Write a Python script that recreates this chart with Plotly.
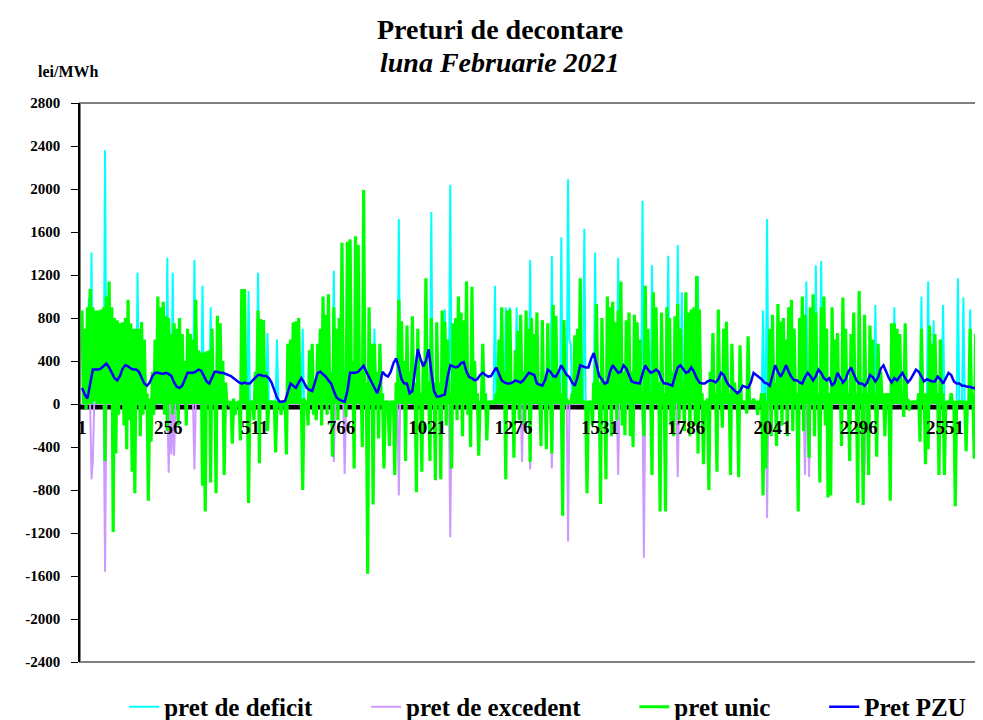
import plotly.graph_objects as go

FONT = "Liberation Serif"
C_DEF = "#00FFFF"
C_EXC = "#CC99FF"
C_UNIC = "#00FF00"
C_PZU = "#0000FF"

x_ticks = [1, 256, 511, 766, 1021, 1276, 1531, 1786, 2041, 2296, 2551]
y_ticks = list(range(-2400, 2801, 400))

# pret unic: top and bottom of the curve in each 2-hour block (12 blocks per day)
unic_hi = [
    870, 700, 900, 1070, 900, 870, 870, 880, 900, 1000, 1140, 900,
    800, 780, 750, 760, 800, 970, 750, 700, 700, 700, 760, 600,
    100, 50, 300, 600, 1000, 900, 950, 820, 800, 650, 750, 700,
    800, 650, 400, 700, 650, 600, 970, 500, 480, 480, 490, 500,
    700, 300, 820, 750, 400, 200, 30, 30, 50, 20, 30, 1070,
    1070, 200, 30, 30, 300, 870, 790, 780, 300, 30, 30, 30,
    30, 30, 30, 30, 560, 600, 760, 770, 800, 50, 50, 30,
    500, 560, 200, 560, 700, 1000, 830, 1020, 300, 900, 700, 800,
    1500, 300, 1510, 1530, 400, 1560, 1480, 300, 1990, 200, 900, 560,
    560, 300, 560, 100, 30, 30, 30, 30, 200, 970, 770, 400,
    730, 300, 815, 200, 700, 100, 400, 1170, 200, 800, 200, 760,
    200, 870, 765, 600, 100, 750, 800, 1000, 850, 780, 1140, 300,
    1090, 400, 100, 30, 560, 100, 30, 30, 30, 100, 600, 900,
    300, 870, 880, 200, 500, 680, 830, 300, 870, 700, 800, 650,
    850, 200, 780, 200, 750, 200, 920, 820, 300, 100, 780, 50,
    30, 100, 640, 700, 1170, 30, 30, 30, 30, 200, 930, 200,
    800, 200, 1000, 900, 950, 760, 870, 1140, 300, 780, 850, 300,
    830, 760, 600, 50, 1100, 700, 100, 1040, 900, 200, 850, 100,
    900, 800, 300, 815, 930, 700, 200, 1040, 850, 880, 900, 1190,
    880, 100, 30, 50, 300, 660, 100, 880, 100, 700, 765, 100,
    560, 200, 100, 545, 30, 30, 630, 30, 50, 30, 30, 100,
    100, 30, 700, 830, 200, 930, 765, 800, 600, 900, 970, 700,
    100, 800, 1000, 830, 200, 900, 1020, 850, 100, 900, 1000, 700,
    100, 900, 600, 660, 200, 990, 700, 100, 650, 850, 100, 1050,
    100, 830, 100, 730, 600, 100, 560, 300, 100, 100, 100, 750,
    750, 700, 650, 100, 750, 50, 30, 30, 30, 100, 700, 100,
    100, 730, 560, 650, 100, 600, 100, 30, 30, 100, 30, 30,
    30, 30, 30, 30, 700, 100, 650, 100, 700, 100, 700, 700,
]
unic_lo = [
    0, -50, 0, 0, 20, 0, 0, 0, -530, 0, 0, -1190,
    -460, -100, 0, -200, -420, -150, -630, -830, 0, -300, -100, 0,
    -900, -350, -100, 0, 0, 0, -100, -250, 0, -100, 0, -200,
    0, 0, -200, 0, 0, 0, 0, 0, -760, -1000, 0, -730,
    0, -830, 0, 0, -660, 0, -20, -370, -100, 0, -340, 0,
    0, -920, 0, -150, 0, -550, 0, 0, -250, 0, 0, -450,
    0, -100, 0, -470, 0, 0, 0, 0, 0, -800, 0, -200,
    0, -100, -150, 0, -200, 0, -100, 0, -490, 0, -150, 0,
    0, -120, 0, 0, -600, 0, 0, -400, 0, -1580, 0, -935,
    0, -320, 0, -600, 0, -390, 0, -660, 0, 0, 0, -530,
    0, 0, 0, -820, 0, -630, 0, 0, -530, 0, -710, 0,
    -700, 0, -200, 0, -600, 0, -150, 0, -300, 0, -100, -400,
    0, 0, -480, 0, 0, -340, 0, 0, 0, 0, 0, 0,
    -700, 0, 0, -500, 0, -150, 0, -200, 0, -540, 0, 0,
    0, -390, 0, -420, 0, -460, 0, 0, 0, -1040, 0, 0,
    0, 0, 0, 0, 0, 0, -830, 0, -200, 0, 0, -930,
    0, -700, 0, -300, 0, -150, 0, -200, -290, 0, -300, -400,
    0, 0, 0, -300, 0, 0, -660, 0, 0, -1000, 0, -1000,
    0, -200, -300, 0, -150, 0, -250, 0, -300, 0, -200, -460,
    0, -560, 0, -800, 0, 0, -630, 0, -220, 0, 0, -660,
    0, 0, -680, 0, 0, -90, 0, 0, 0, -100, 0, -850,
    -600, 0, -300, 0, -390, 0, -200, 0, -300, 0, -250, 0,
    -1000, 0, -250, 0, -500, 0, -300, 0, -730, 0, -200, -870,
    -850, 0, 0, 0, -390, 0, 0, -530, 0, 0, -920, 0,
    -940, 0, -660, 0, 0, -490, 0, 0, -300, 0, -900, 0,
    0, 0, 0, -120, 0, -60, 0, 0, 0, -350, 0, -560,
    -420, 0, 0, 0, -660, 0, -660, 0, 0, 0, -950, 0,
    0, 0, -440, 0, 0, -510, 0, -500, 0, -320, 0, 0,
]

# deficit / excedent spikes: hour index in the month, price
deficit_hour = [5, 7, 17, 41, 44, 63, 67, 83, 89, 95, 123, 130, 137, 144, 163,
                186, 191, 198, 216, 234, 258, 268, 272, 296, 305, 313, 316, 321,
                331, 347, 354, 359, 360, 361, 371, 379, 396, 414, 421, 433, 440,
                443, 455, 503, 506, 535, 542, 546, 578, 586, 600, 620, 625, 629,
                636, 647, 651, 656]
deficit_val = [990, 1410, 2360, 1220, 765, 1360, 1220, 1340, 1100, 900, 1050,
               1220, 660, 600, 700, 1240, 830, 1530, 700, 1720, 1785, 880, 2040,
               545, 1100, 900, 900, 900, 1340, 1380, 1550, 2090, 600, 550, 1630,
               1410, 1360, 1890, 1290, 1380, 1480, 1040, 1190, 870, 1720, 1140,
               1290, 1330, 730, 920, 900, 1000, 1140, 780, 920, 1170, 990, 880]
excedent_hour = [7, 8, 17, 39, 64, 66, 68, 83, 100, 186, 194, 212, 234, 272,
                 325, 331, 347, 359, 396, 415, 440, 506, 534, 537, 578]
excedent_val = [-700, -530, -1560, 560, -640, -470, -480, -610, 765, -540,
                -650, 870, -850, -1240, -540, -610, -600, -1280, -660, -1430,
                -680, -1060, -660, -680, -660]

# Pret PZU, one value every 2 hours
pzu = [
    150, 90, 50, 200, 320, 320, 320, 330, 350, 375, 340, 290,
    240, 220, 260, 330, 360, 350, 330, 320, 320, 300, 240, 190,
    170, 200, 260, 290, 290, 285, 280, 290, 280, 260, 200, 160,
    150, 170, 240, 290, 290, 290, 300, 320, 310, 260, 210, 190,
    240, 300, 300, 290, 290, 280, 270, 260, 240, 220, 200, 190,
    200, 190, 190, 220, 250, 270, 270, 260, 260, 240, 200, 130,
    60, 20, 20, 30, 120, 190, 170, 150, 200, 240, 200, 150,
    130, 120, 200, 290, 300, 280, 255, 220, 190, 120, 60, 40,
    30, 20, 120, 290, 290, 290, 300, 330, 355, 300, 250, 200,
    150, 100, 180, 300, 270, 255, 300, 380, 425, 340, 230, 190,
    190, 100, 120, 300, 510, 420, 350, 400, 510, 300, 120, 70,
    70, 80, 90, 250, 360, 350, 340, 350, 380, 390, 300, 250,
    240, 220, 230, 270, 290, 270, 255, 260, 300, 340, 280, 220,
    200, 190, 190, 200, 220, 210, 200, 220, 260, 290, 280, 270,
    190, 180, 170, 220, 320, 300, 260, 255, 300, 360, 320, 270,
    250, 200, 170, 250, 360, 350, 340, 340, 420, 475, 380, 260,
    230, 190, 200, 300, 360, 320, 290, 300, 360, 330, 260, 210,
    200, 195, 190, 280, 360, 320, 290, 300, 320, 300, 230, 190,
    190, 180, 170, 260, 340, 360, 330, 290, 300, 340, 300, 240,
    200, 190, 190, 210, 220, 215, 200, 230, 290, 270, 210, 170,
    150, 120, 100, 120, 170, 160, 150, 200, 290, 270, 250, 230,
    200, 190, 170, 260, 360, 300, 255, 300, 360, 300, 250, 220,
    220, 200, 190, 250, 290, 260, 220, 260, 320, 290, 240, 220,
    240, 170, 200, 290, 250, 200, 230, 300, 340, 280, 220, 190,
    190, 170, 200, 270, 250, 210, 250, 330, 360, 300, 240, 200,
    240, 220, 250, 290, 240, 200, 230, 280, 320, 300, 250, 210,
    230, 220, 210, 210, 255, 230, 190, 240, 290, 270, 210, 190,
    190, 170, 170, 160, 160, 150, 150, 150, 150, 140, 140, 140,
]

# build hourly series (x = quarter-hour index of the month)
n_hours = 2 * len(unic_hi)
x_hour = [1 + 4 * j for j in range(n_hours)]
unic = []
for hi, lo in zip(unic_hi, unic_lo):
    unic += [hi, lo]
deficit = [0] * n_hours
for j, v in zip(deficit_hour, deficit_val):
    deficit[j] = v
excedent = [0] * n_hours
for j, v in zip(excedent_hour, excedent_val):
    excedent[j] = v
x_pzu = [1 + 8 * i for i in range(len(pzu))]

PAD = "&nbsp;" * 7 + "&#8201;"  # extra room between legend entries

fig = go.Figure()
fig.add_trace(go.Scatter(x=x_hour, y=deficit, mode="lines",
                         name="<b>pret de deficit</b>" + PAD,
                         line=dict(color=C_DEF, width=2)))
fig.add_trace(go.Scatter(x=x_hour, y=excedent, mode="lines",
                         name="<b>pret de excedent</b>" + PAD,
                         line=dict(color=C_EXC, width=2)))
fig.add_trace(go.Scatter(x=x_hour, y=unic, mode="lines",
                         name="<b>pret unic</b>" + PAD,
                         line=dict(color=C_UNIC, width=3.2)))
fig.add_trace(go.Scatter(x=x_pzu, y=pzu, mode="lines", name="<b>Pret PZU</b>",
                         line=dict(color=C_PZU, width=2.5)))

y_min, y_max = -2400, 2800
zero_pos = (0 - y_min) / (y_max - y_min)

# the page adds an 8 px body margin, so the figure is 8 px smaller each way
fig.update_layout(
    width=975, height=712,
    margin=dict(l=72, r=1, t=95, b=58, autoexpand=False),
    plot_bgcolor="white", paper_bgcolor="white",
    font=dict(family=FONT, color="black"),
    showlegend=True,
    legend=dict(orientation="h", x=0.049, xanchor="left", y=-0.0805, yanchor="middle",
                font=dict(family=FONT, size=25, color="black"),
                bgcolor="rgba(0,0,0,0)"),
    xaxis=dict(range=[-5, 2660], anchor="free", position=zero_pos,
               tickvals=x_ticks, ticktext=[f"<b>{t}</b>" for t in x_ticks],
               tickfont=dict(family=FONT, size=19, color="black"),
               showgrid=False, zeroline=False, showline=False, ticks="",
               ticklabelstandoff=10),
    yaxis=dict(range=[y_min, y_max], tickvals=y_ticks,
               ticktext=[f"<b>{t}</b>" for t in y_ticks],
               tickfont=dict(family=FONT, size=15, color="black"),
               showgrid=False, zeroline=False, showline=True, linecolor="black",
               linewidth=1.5, ticks="outside", ticklen=7, tickcolor="black",
               ticklabelstandoff=8),
    shapes=[
        dict(type="rect", xref="paper", yref="paper", x0=0, x1=1, y0=0, y1=1,
             line=dict(color="#808080", width=2), layer="below"),
        dict(type="line", xref="paper", yref="y", x0=0, x1=1, y0=-28, y1=-28,
             line=dict(color="black", width=5), layer="below"),
    ],
    annotations=[
        dict(text="<b>Preturi de decontare</b>", xref="paper", yref="paper",
             x=0.466, y=1.1306, xanchor="center", yanchor="middle", showarrow=False,
             font=dict(family=FONT, size=28, color="black")),
        dict(text="<b><i>luna Februarie 2021</i></b>", xref="paper", yref="paper",
             x=0.466, y=1.0733, xanchor="center", yanchor="middle", showarrow=False,
             font=dict(family=FONT, size=28, color="black")),
        dict(text="<b>lei/MWh</b>", xref="paper", yref="paper",
             x=-0.0133, y=1.0555, xanchor="center", yanchor="middle", showarrow=False,
             font=dict(family=FONT, size=16, color="black")),
    ],
)

fig.write_html("out.html")
